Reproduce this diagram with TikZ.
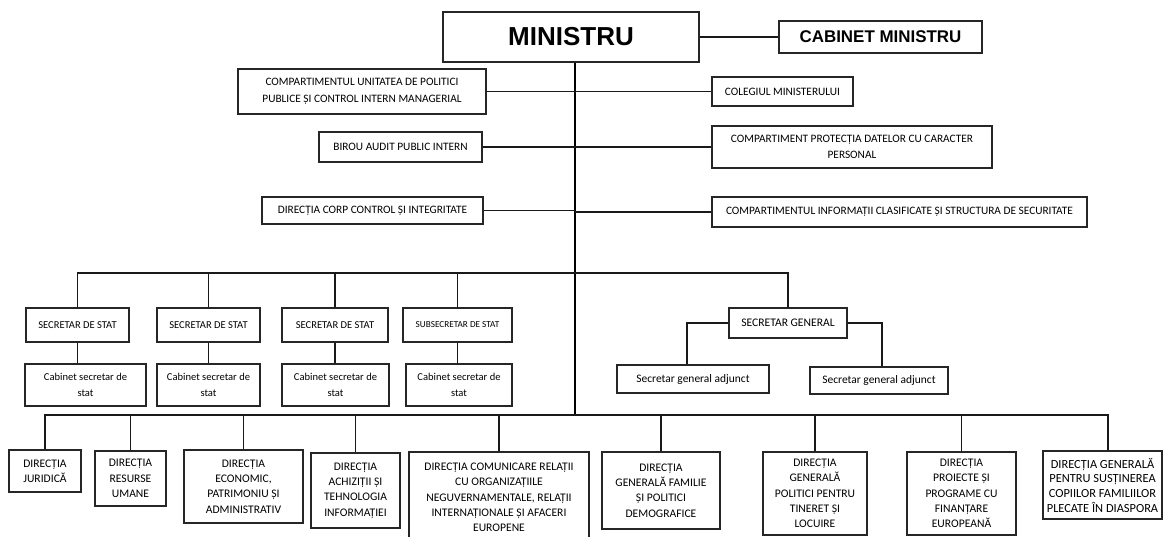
\documentclass[tikz,border=0pt]{standalone}
\usepackage{fontspec}
\setmainfont{Carlito}
\newfontfamily\arialf{Liberation Sans}
\newcommand\mkbox[7][]{\node[box,#1,minimum width={(#5-#3)*0.75pt},minimum height={(#6-#4)*0.75pt}] (#2) at ({(#3+#5)/2},{(#4+#6)/2}) {#7};}
\begin{document}
\begin{tikzpicture}[x=0.75pt,y=-0.75pt,
  box/.style={draw=black!85,line width=0.8pt,inner sep=0pt,align=center},
  ln/.style={line width=1pt,black!90},
  spine/.style={line width=1.3pt,black},
  fA/.style={font=\fontsize{8.5}{12.5}\selectfont},
  fS/.style={font=\fontsize{7.9}{12.5}\selectfont},
  fB/.style={font=\fontsize{8.7}{11.5}\selectfont}]
\useasboundingbox (0,0) rectangle (1164,536);
% top
\mkbox[font=\arialf\bfseries\fontsize{19.5}{22}\selectfont,line width=1pt]{min}{443}{12}{699}{62}{MINISTRU}
\mkbox[font=\arialf\bfseries\fontsize{12.7}{15}\selectfont]{cab}{779}{21}{982}{53}{CABINET MINISTRU}
\mkbox[fA]{cup}{238}{69}{486}{114}{COMPARTIMENTUL UNITATEA DE POLITICI\\PUBLICE ȘI CONTROL INTERN MANAGERIAL}
\mkbox[fA]{col}{712}{77}{853}{106}{COLEGIUL MINISTERULUI}
\mkbox[fA]{bir}{319}{132}{482}{162}{BIROU AUDIT PUBLIC INTERN}
\mkbox[fA]{pro}{712}{126}{992}{168}{COMPARTIMENT PROTECȚIA DATELOR CU CARACTER\\PERSONAL}
\mkbox[fA]{cor}{262}{197}{483}{224}{DIRECȚIA CORP CONTROL ȘI INTEGRITATE}
\mkbox[fA]{inf}{712}{197}{1087}{227}{COMPARTIMENTUL INFORMAȚII CLASIFICATE ȘI STRUCTURA DE SECURITATE}
% secretaries
\mkbox[fS]{ss1}{26}{308}{129}{342}{SECRETAR DE STAT}
\mkbox[fS]{ss2}{157}{308}{260}{342}{SECRETAR DE STAT}
\mkbox[fS]{ss3}{282}{308}{388}{342}{SECRETAR DE STAT}
\mkbox[font=\fontsize{6.9}{12}\selectfont]{ss4}{403}{308}{512}{342}{SUBSECRETAR DE STAT}
\mkbox[fS]{cb1}{25}{364}{146}{406}{Cabinet secretar de\\stat}
\mkbox[fS]{cb2}{157}{364}{260}{406}{Cabinet secretar de\\stat}
\mkbox[fS]{cb3}{282}{364}{389}{406}{Cabinet secretar de\\stat}
\mkbox[fS]{cb4}{406}{364}{512}{406}{Cabinet secretar de\\stat}
\mkbox[font=\fontsize{8.7}{12}\selectfont]{sg}{729}{308}{847}{338}{SECRETAR GENERAL}
\mkbox[font=\fontsize{8.6}{12}\selectfont]{sga1}{617}{365}{769}{393}{Secretar general adjunct}
\mkbox[font=\fontsize{8.6}{12}\selectfont]{sga2}{810}{367}{948}{394}{Secretar general adjunct}
% directions
\mkbox[fB]{d1}{9}{450}{81}{492}{DIRECȚIA\\JURIDICĂ}
\mkbox[fB]{d2}{95}{451}{166}{506}{DIRECȚIA\\RESURSE\\UMANE}
\mkbox[fB]{d3}{184}{450}{303}{523}{DIRECȚIA\\ECONOMIC,\\PATRIMONIU ȘI\\ADMINISTRATIV}
\mkbox[fB]{d4}{311}{453}{400}{528}{DIRECȚIA\\ACHIZIȚII ȘI\\TEHNOLOGIA\\INFORMAȚIEI}
\mkbox[fB]{d5}{409}{452}{589}{543}{DIRECȚIA COMUNICARE RELAȚII\\CU ORGANIZAȚIILE\\NEGUVERNAMENTALE, RELAȚII\\INTERNAȚIONALE ȘI AFACERI\\EUROPENE}
\mkbox[fB]{d6}{602}{452}{720}{529}{DIRECȚIA\\GENERALĂ FAMILIE\\ȘI POLITICI\\DEMOGRAFICE}
\mkbox[fB]{d7}{763}{452}{867}{535}{DIRECȚIA\\GENERALĂ\\POLITICI PENTRU\\TINERET ȘI\\LOCUIRE}
\mkbox[fB]{d8}{907}{452}{1016}{535}{DIRECȚIA\\PROIECTE ȘI\\PROGRAME CU\\FINANȚARE\\EUROPEANĂ}
\mkbox[font=\fontsize{9.3}{11}\selectfont]{d9}{1043}{451}{1162}{519}{DIRECȚIA GENERALĂ\\PENTRU SUSȚINEREA\\COPIILOR FAMILIILOR\\PLECATE ÎN DIASPORA}
% helper coordinates
\coordinate (k0) at (575,0);
\coordinate (sbus) at (575,273);
\coordinate (bbus) at (575,415);
\coordinate (ka) at (687,0);
\coordinate (kb) at (882,0);
\coordinate (k9) at (1108,0);
% connectors
\draw[spine] (min.south -| k0) -- (bbus);
\draw[ln] (min.east) -- (cab.west);
\foreach \n in {cup,bir,cor} \draw[ln] (\n.east) -- (\n.east -| k0);
\foreach \n in {col,pro,inf} \draw[ln] (\n.west) -- (\n.west -| k0);
\draw[ln] (ss1.north) |- (sbus) -| (sg.north);
\foreach \n in {ss2,ss3,ss4} \draw[ln] (\n.north) -- (\n.north |- sbus);
\foreach \i in {1,2,3,4} \draw[ln] (ss\i.south) -- (ss\i.south |- cb\i.north);
\draw[ln] (sg.west) -| (sga1.north -| ka);
\draw[ln] (sg.east) -| (sga2.north -| kb);
\draw[ln] (d1.north) |- (bbus) -| (d9.north -| k9);
\foreach \n in {d2,d3,d4,d5,d6,d7,d8} \draw[ln] (\n.north) -- (\n.north |- bbus);
\end{tikzpicture}
\end{document}
